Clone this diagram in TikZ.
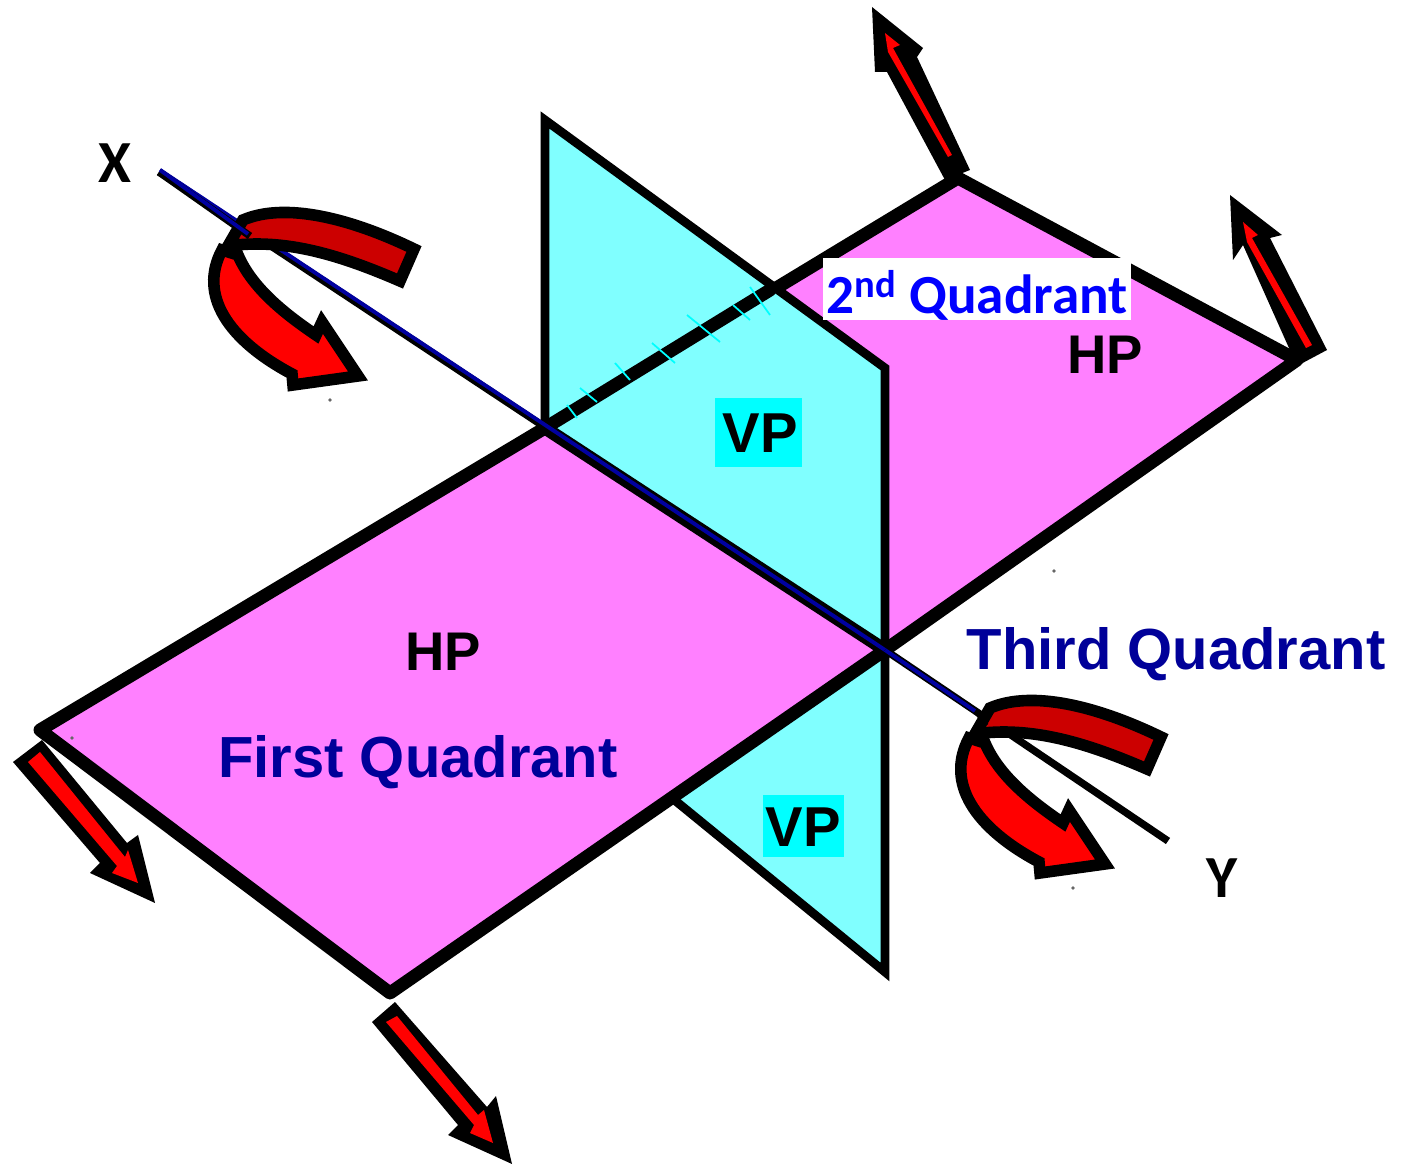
\documentclass[tikz,border=0pt]{standalone}
\usepackage{fontspec}
\setmainfont{Liberation Sans}
\newfontfamily\calib{Carlito}
\definecolor{hppink}{RGB}{255,128,255}
\definecolor{vpcyan}{RGB}{128,255,255}
\definecolor{boxcyan}{RGB}{0,255,255}
\definecolor{darkband}{RGB}{204,0,0}
\definecolor{navytext}{RGB}{0,0,153}
\definecolor{axisblue}{RGB}{0,0,160}
\tikzset{
  hpplane/.style={fill=hppink,draw=black,line width=7.4pt,line join=round},
  vpplane/.style={fill=vpcyan,draw=black,line width=5pt,line join=miter},
  hpedge/.style={draw=black,line width=7.4pt,line cap=round},
  shadow/.style={draw=black,line width=4.2pt},
  axisline/.style={draw=axisblue,line width=2.2pt},
  tick/.style={draw=boxcyan,line width=1pt},
  curvedpart/.style={draw=black,line width=6.6pt,line join=miter,miter limit=10},
  blackshape/.style={fill=black,draw=none},
  redshape/.style={fill=red,draw=none},
  speck/.style={fill=black!60,draw=none,circle,inner sep=0pt,minimum size=2.2pt},
  lab/.style={inner sep=0pt,font=\bfseries\fontsize{31}{31}\selectfont},
  quad/.style={inner sep=0pt,text=navytext,font=\bfseries\fontsize{33}{33}\selectfont},
  vplab/.style={inner sep=0pt,font=\bfseries\fontsize{32}{32}\selectfont},
  axlab/.style={inner sep=0pt,font=\calib\bfseries\fontsize{34}{34}\selectfont},
  curvedarrow/.pic={
    \path[curvedpart,fill=red] (222,250) .. controls (198,295) and (228,340) .. (292,374) -- (293,385) -- (358,376) -- (322,322) -- (316,335) .. controls (285,314) and (252,288) .. (238,255) -- cycle;
    \path[curvedpart,fill=darkband] (414,249) .. controls (350,218) and (285,202) .. (243,220) -- (228,246) .. controls (285,238) and (340,255) .. (400,281) -- cycle;
  }
}
\begin{document}
\begin{tikzpicture}[x=0.02cm,y=-0.02cm]
\useasboundingbox[fill=white] (0,0) rectangle (1401,1165);
% back horizontal plane
\path[hpplane] (545,428) -- (958,178) -- (1297,360) -- (885,650) -- cycle;
% lower vertical plane
\path[vpplane] (885,650) -- (885,972) -- (672,798) -- cycle;
% upper vertical plane
\path[vpplane] (545,120) -- (885,368) -- (885,650) -- (545,428) -- cycle;
% hinge line seen through the vertical plane
\path[hpedge] (545,428) -- (770,290);
\foreach \a/\b/\c/\d in {567/405/577/418, 580/388/597/402, 615/363/630/380, 652/343/675/363, 687/315/720/342, 733/305/750/320, 750/287/770/315}
  \draw[tick] (\a,\b) -- (\c,\d);
% front horizontal plane
\path[hpplane] (40,730) -- (545,428) -- (885,650) -- (390,993) -- cycle;
% reference line
\path[shadow] (159,172) -- (885,652);
\path[axisline] (160,170) -- (885,650);
\path[shadow] (885,650) -- (1168,841);
\path[axisline] (885,650) -- (975,711);
% curved arrows
\pic at (0,0) {curvedarrow};
\pic at (747,488) {curvedarrow};
\path[shadow] (159,172) -- (250,236);
\path[axisline] (160,170) -- (248,234);
\path[draw=black,line width=2pt] (975,712) -- (987,725);
% straight arrows
\path[blackshape] (872,7) -- (923,48) -- (917,57) -- (970,170) -- (945,180) -- (887,72) -- (875,72) -- cycle;
\path[redshape] (885,33) -- (900,45) -- (893,48) -- (952,155) -- (948,157) -- (888,52) -- cycle;
\path[blackshape] (1230,195) -- (1282,235) -- (1270,238) -- (1327,350) -- (1297,366) -- (1243,245) -- (1233,260) -- cycle;
\path[redshape] (1243,222) -- (1258,235) -- (1252,238) -- (1312,345) -- (1306,348) -- (1247,242) -- cycle;
\path[blackshape] (13,762) -- (42,740) -- (127,843) -- (138,835) -- (155,903) -- (90,873) -- (100,863) -- cycle;
\path[redshape] (28,762) -- (40,752) -- (125,857) -- (128,850) -- (138,883) -- (112,873) -- (117,866) -- cycle;
\path[blackshape] (372,1022) -- (395,1002) -- (487,1107) -- (496,1096) -- (512,1164) -- (448,1135) -- (458,1125) -- cycle;
\path[redshape] (386,1022) -- (397,1016) -- (478,1115) -- (484,1110) -- (493,1143) -- (470,1133) -- (474,1125) -- cycle;
% specks
\node[speck] (s1) at (330,400) {};
\node[speck] (s2) at (1073,888) {};
\node[speck] (s3) at (1054,571) {};
\node[speck] (s4) at (72,738) {};
% labels
\node[fill=boxcyan,minimum width=1.74cm,minimum height=1.38cm,inner sep=0pt] (vpbox1) at (758.5,432.5) {};
\node[fill=boxcyan,minimum width=1.62cm,minimum height=1.24cm,inner sep=0pt] (vpbox2) at (803.5,826) {};
\node[vplab] (vp1) at (760,433) {VP};
\node[vplab] (vp2) at (803,827) {VP};
\node[fill=white,minimum width=6.16cm,minimum height=1.24cm,inner sep=0pt] (q2box) at (977,289) {};
\node[inner sep=0pt,text=blue,font=\calib\bfseries\fontsize{31.4}{31.4}\selectfont] (q2) at (977,295) {2\textsuperscript{nd} Quadrant};
\node[lab] (hp1) at (443,652) {HP};
\node[lab] (hp2) at (1105,355) {HP};
\node[quad] (q1) at (418,762) {First Quadrant};
\node[quad] (q3) at (1176,654) {Third Quadrant};
\node[axlab] (xl) at (115,163) {X};
\node[axlab] (yl) at (1222,878) {Y};
\end{tikzpicture}
\end{document}
